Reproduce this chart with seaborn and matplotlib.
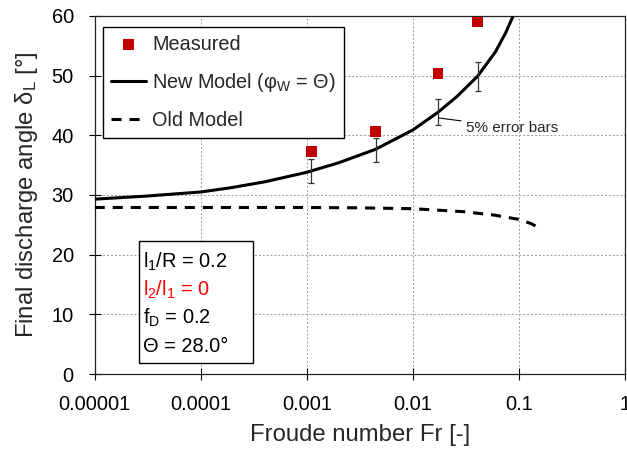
import numpy as np
import pandas as pd
import matplotlib
matplotlib.use("Agg")
import matplotlib.pyplot as plt
import seaborn as sns

# Measured data
meas_fr = [0.0011, 0.00444, 0.0172, 0.0407]
meas_delta = [37.3, 40.6, 50.3, 59.0]

# New model (phi_W = Theta)
new_fr = [1e-5, 3e-5, 1e-4, 1.9e-4, 4e-4, 1e-3, 2e-3, 4.44e-3, 1e-2,
          1.72e-2, 2.6e-2, 4.07e-2, 6e-2, 7.5e-2, 8.8e-2, 9.5e-2]
new_delta = [29.3, 29.8, 30.5, 31.2, 32.2, 33.8, 35.4, 37.65, 40.9,
             43.85, 46.5, 49.9, 54.0, 57.2, 60.0, 61.8]

# Old model
old_fr = [1e-5, 1e-4, 1e-3, 3e-3, 1e-2, 3e-2, 6e-2, 0.1, 0.13, 0.166]
old_delta = [27.9, 27.9, 27.9, 27.85, 27.7, 27.2, 26.6, 25.9, 25.2, 24.2]

# Error bars (5%) on model at measured Fr
err_fr = [0.0011, 0.00444, 0.0172, 0.0407]
err_center = [34.0, 37.6, 43.85, 49.9]
err_half = [2.0, 2.0, 2.15, 2.45]

xticks = [1e-5, 1e-4, 1e-3, 1e-2, 1e-1, 1]
xticklabels = ["0.00001", "0.0001", "0.001", "0.01", "0.1", "1"]
yticks = [0, 10, 20, 30, 40, 50, 60]

sns.set_style("ticks")
plt.rcParams['font.family'] = ['Liberation Sans', 'DejaVu Sans']
plt.rcParams['mathtext.fontset'] = 'custom'
plt.rcParams['mathtext.rm'] = 'Liberation Sans'
plt.rcParams['mathtext.it'] = 'Liberation Sans:italic'

fig = plt.figure(figsize=(6.27, 4.51), dpi=100)
ax = fig.add_axes([0.151, 0.1707, 0.846, 0.794])

df_new = pd.DataFrame({"Fr": new_fr, "delta": new_delta})
df_old = pd.DataFrame({"Fr": old_fr, "delta": old_delta})
df_meas = pd.DataFrame({"Fr": meas_fr, "delta": meas_delta})

ax.set_xscale("log")

sns.lineplot(data=df_new, x="Fr", y="delta", ax=ax, color="black", lw=2.2,
             label=r"New Model (φ$_\mathrm{W}$ = Θ)", sort=False, zorder=3)
sns.lineplot(data=df_old, x="Fr", y="delta", ax=ax, color="black", lw=2.2,
             linestyle=(0, (3.3, 2.6)), label="Old Model", sort=False, zorder=3)
sns.scatterplot(data=df_meas, x="Fr", y="delta", ax=ax, color="#c00000", marker="s",
                s=60, edgecolor="none", label="Measured", zorder=4)

ax.errorbar(err_fr, err_center, yerr=err_half, fmt="none", ecolor="#333333",
            elinewidth=0.9, capsize=2.5, capthick=0.9, zorder=3)

ax.annotate("5% error bars", xy=(0.0176, 42.9), xytext=(0.0314, 41.3),
            fontsize=11, va="center", ha="left",
            arrowprops=dict(arrowstyle="-", color="black", lw=0.8,
                            shrinkA=1, shrinkB=0))

ax.set_xlim(1e-5, 1)
ax.set_ylim(0, 60)
ax.set_xticks(xticks)
ax.set_xticklabels(xticklabels)
ax.set_yticks(yticks)
ax.minorticks_off()
ax.tick_params(axis="both", which="major", direction="inout", length=9,
               labelsize=14.4, colors="black", width=0.8, pad=10.5)
ax.grid(True, which="major", color="#999999", linestyle=(0, (2, 2)), lw=0.7)
for s in ax.spines.values():
    s.set_visible(True)
    s.set_color("#222222")
    s.set_linewidth(0.9)

ax.set_xlabel("Froude number Fr [-]", fontsize=17.2, labelpad=7)
ax.set_ylabel(r"Final discharge angle δ$_\mathrm{L}$ [°]", fontsize=17.2, labelpad=8)

handles, labels = ax.get_legend_handles_labels()
order = [labels.index("Measured"), 0, 1]
leg = ax.legend([handles[i] for i in order], [labels[i] for i in order],
                loc="upper left", bbox_to_anchor=(0.015, 0.969), borderaxespad=0,
                fontsize=14.3, frameon=True, fancybox=False, edgecolor="black",
                framealpha=1, handlelength=1.8, labelspacing=0.85, borderpad=0.4,
                handletextpad=0.3)
leg.get_frame().set_linewidth(1.0)

# Parameter box
txt_lines = [(r"l$_\mathrm{1}$/R = 0.2", "black"),
             (r"l$_\mathrm{2}$/l$_\mathrm{1}$ = 0", "red"),
             (r"f$_\mathrm{D}$ = 0.2", "black"),
             (r"Θ = 28.0°", "black")]
box = matplotlib.patches.Rectangle((0.0835, 0.030), 0.2155, 0.342, transform=ax.transAxes,
                                   facecolor="white", edgecolor="black", lw=1.0, zorder=5)
ax.add_patch(box)
ys = [0.314, 0.235, 0.156, 0.076]
for (t, c), yy in zip(txt_lines, ys):
    ax.text(0.0917, yy, t, transform=ax.transAxes, fontsize=14.4, color=c,
            va="center", ha="left", zorder=6)

fig.savefig("out.png", dpi=100)
